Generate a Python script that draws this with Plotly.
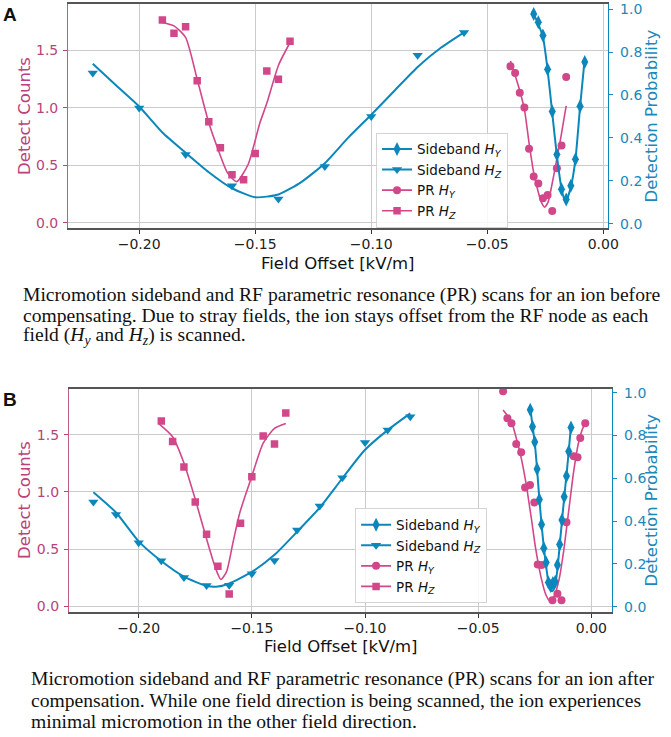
import plotly.graph_objects as go

# ---- panel A data (before compensating) ----
a_sby_x = [-0.030, -0.028, -0.026, -0.024, -0.022, -0.020, -0.018, -0.016, -0.014, -0.012, -0.010, -0.008]
a_sby_y = [0.978, 0.939, 0.877, 0.720, 0.523, 0.323, 0.160, 0.112, 0.177, 0.300, 0.548, 0.754]
a_sby_fit_x = [-0.0306, -0.028, -0.026, -0.024, -0.022, -0.020, -0.018, -0.0163, -0.014, -0.012, -0.010, -0.008]
a_sby_fit_y = [0.992, 0.930, 0.870, 0.717, 0.517, 0.317, 0.163, 0.100, 0.170, 0.300, 0.546, 0.769]

a_sbz_x = [-0.22, -0.20, -0.18, -0.16, -0.14, -0.12, -0.10, -0.08, -0.06]
a_sbz_y = [0.703, 0.539, 0.323, 0.177, 0.115, 0.266, 0.500, 0.785, 0.892]
a_sbz_fit_x = [-0.22, -0.21, -0.20, -0.19, -0.18, -0.17, -0.16, -0.15, -0.14, -0.13, -0.12,
               -0.11, -0.10, -0.09, -0.08, -0.07, -0.06]
a_sbz_fit_y = [0.746, 0.645, 0.546, 0.425, 0.331, 0.240, 0.165, 0.123, 0.136, 0.195, 0.282,
               0.400, 0.508, 0.620, 0.731, 0.820, 0.892]

a_pry_x = [-0.040, -0.038, -0.036, -0.034, -0.032, -0.030, -0.028, -0.026, -0.024, -0.022, -0.020, -0.018, -0.016]
a_pry_y = [1.362, 1.305, 1.133, 1.003, 0.644, 0.403, 0.342, 0.213, 0.241, 0.101, 0.474, 0.672, 1.270]
a_pry_fit_x = [-0.040, -0.038, -0.036, -0.034, -0.032, -0.030, -0.028, -0.0267, -0.0253, -0.0238,
               -0.0225, -0.0203, -0.0182, -0.016]
a_pry_fit_y = [1.409, 1.284, 1.150, 0.989, 0.696, 0.437, 0.265, 0.178, 0.135, 0.178,
               0.293, 0.523, 0.753, 1.017]

a_prz_x = [-0.190, -0.185, -0.180, -0.175, -0.170, -0.165, -0.160, -0.155, -0.150, -0.145, -0.140, -0.135]
a_prz_y = [1.767, 1.650, 1.707, 1.236, 0.879, 0.653, 0.417, 0.374, 0.603, 1.322, 1.250, 1.580]
a_prz_fit_x = [-0.190, -0.185, -0.180, -0.175, -0.170, -0.166, -0.162, -0.158, -0.153, -0.148,
               -0.145, -0.140, -0.135]
a_prz_fit_y = [1.745, 1.715, 1.615, 1.250, 0.870, 0.638, 0.437, 0.357, 0.509, 0.868,
               1.040, 1.370, 1.570]

# ---- panel B data (after compensation) ----
b_sby_x = [-0.027, -0.026, -0.025, -0.024, -0.023, -0.022, -0.021, -0.020, -0.019, -0.018,
           -0.017, -0.016, -0.015, -0.014, -0.013, -0.012, -0.011, -0.010, -0.009]
b_sby_y = [0.920, 0.841, 0.770, 0.643, 0.501, 0.384, 0.273, 0.206, 0.113, 0.096,
           0.110, 0.116, 0.195, 0.290, 0.405, 0.513, 0.611, 0.725, 0.837]
b_sby_fit_x = [-0.027, -0.026, -0.025, -0.024, -0.023, -0.022, -0.021, -0.020, -0.019, -0.018,
               -0.017, -0.016, -0.015, -0.014, -0.013, -0.012, -0.011, -0.010, -0.009]
b_sby_fit_y = [0.930, 0.845, 0.765, 0.645, 0.505, 0.385, 0.275, 0.190, 0.115, 0.075,
               0.075, 0.100, 0.175, 0.285, 0.400, 0.510, 0.615, 0.725, 0.850]

b_sbz_x = [-0.22, -0.21, -0.20, -0.19, -0.18, -0.17, -0.16, -0.15, -0.14, -0.13, -0.12,
           -0.11, -0.10, -0.09, -0.08]
b_sbz_y = [0.489, 0.431, 0.298, 0.214, 0.136, 0.099, 0.100, 0.154, 0.216, 0.358, 0.470,
           0.602, 0.767, 0.825, 0.887]
b_sbz_fit_x = [-0.22, -0.21, -0.20, -0.19, -0.18, -0.17, -0.165, -0.16, -0.15, -0.14, -0.13,
               -0.12, -0.11, -0.10, -0.09, -0.08]
b_sbz_fit_y = [0.535, 0.440, 0.305, 0.213, 0.140, 0.097, 0.094, 0.108, 0.162, 0.242, 0.350,
               0.463, 0.600, 0.733, 0.825, 0.903]

b_pry_x = [-0.0390, -0.0371, -0.0353, -0.0332, -0.0310, -0.0293, -0.0271, -0.0252, -0.0237,
           -0.0220, -0.0172, -0.0150, -0.0132, -0.0110, -0.0078, -0.0061, -0.0049, -0.0027]
b_pry_y = [1.880, 1.644, 1.600, 1.419, 1.347, 1.039, 1.061, 0.909, 0.367,
           0.361, 0.054, 0.111, 0.054, 0.736, 1.312, 1.303, 1.471, 1.600]
b_pry_fit_x = [-0.0390, -0.0353, -0.0332, -0.0310, -0.0288, -0.0266, -0.0245, -0.0223, -0.0201,
               -0.0183, -0.0165, -0.0143, -0.0122, -0.0100, -0.0078, -0.0057, -0.0035, -0.0017]
b_pry_fit_y = [1.716, 1.615, 1.471, 1.298, 1.067, 0.780, 0.491, 0.261, 0.102,
               0.045, 0.088, 0.232, 0.491, 0.837, 1.182, 1.428, 1.571, 1.629]

b_prz_x = [-0.190, -0.185, -0.180, -0.175, -0.170, -0.165, -0.160, -0.155, -0.150, -0.145, -0.140, -0.135]
b_prz_y = [1.619, 1.440, 1.219, 0.913, 0.631, 0.351, 0.109, 0.726, 1.132, 1.489, 1.420, 1.690]
b_prz_fit_x = [-0.1909, -0.185, -0.180, -0.175, -0.170, -0.166, -0.1637, -0.1612, -0.1583, -0.1553,
               -0.150, -0.145, -0.140, -0.135]
b_prz_fit_y = [1.593, 1.483, 1.253, 0.936, 0.590, 0.331, 0.236, 0.302, 0.562, 0.821,
               1.138, 1.426, 1.556, 1.599]

legend_names = ["Sideband <i>H<sub>Y</sub></i>", "Sideband <i>H<sub>Z</sub></i>",
                "PR <i>H<sub>Y</sub></i>", "PR <i>H<sub>Z</sub></i>"]

BLUE = "#0C87BC"
PINK = "#D2478A"
PINK_TXT = "#B8437C"
BLUE_TXT = "#1A88BA"
W, H = 671, 737
FONT = "DejaVu Sans"

fig = go.Figure()


def px_x(p):
    return p / W


def px_y(p):
    return 1 - p / H


panels = [
    dict(x="x", yl="y", yr="y2", leg="legend",
         sby=(a_sby_x, a_sby_y, a_sby_fit_x, a_sby_fit_y),
         sbz=(a_sbz_x, a_sbz_y, a_sbz_fit_x, a_sbz_fit_y),
         pry=(a_pry_x, a_pry_y, a_pry_fit_x, a_pry_fit_y),
         prz=(a_prz_x, a_prz_y, a_prz_fit_x, a_prz_fit_y)),
    dict(x="x2", yl="y3", yr="y4", leg="legend2",
         sby=(b_sby_x, b_sby_y, b_sby_fit_x, b_sby_fit_y),
         sbz=(b_sbz_x, b_sbz_y, b_sbz_fit_x, b_sbz_fit_y),
         pry=(b_pry_x, b_pry_y, b_pry_fit_x, b_pry_fit_y),
         prz=(b_prz_x, b_prz_y, b_prz_fit_x, b_prz_fit_y)),
]

series = [("sby", BLUE, "diamond-tall", 10, "yr", 2.0),
          ("sbz", BLUE, "triangle-down", 9, "yr", 2.0),
          ("pry", PINK, "circle", 8, "yl", 1.6),
          ("prz", PINK, "square", 7.5, "yl", 1.6)]

for p in panels:
    # PR first (left axis), then sideband (right axis)
    for key, color, sym, size, ax, lw in series[2:] + series[:2]:
        xs, ys, fx, fy = p[key]
        fig.add_trace(go.Scatter(x=fx, y=fy, mode="lines", line=dict(color=color, width=lw, shape="spline", smoothing=0.6),
                                 xaxis=p["x"], yaxis=p[ax], showlegend=False, hoverinfo="skip"))
        fig.add_trace(go.Scatter(x=xs, y=ys, mode="markers", marker=dict(color=color, symbol=sym, size=size),
                                 xaxis=p["x"], yaxis=p[ax], showlegend=False))
    # legend-only entries
    for (key, color, sym, size, ax, lw), name in zip(series, legend_names):
        fig.add_trace(go.Scatter(x=[None], y=[None], mode="lines+markers", name=name,
                                 line=dict(color=color, width=lw), marker=dict(color=color, symbol=sym, size=size),
                                 xaxis=p["x"], yaxis=p[ax], legend=p["leg"]))

xa = dict(showgrid=True, gridcolor="#cbcbcb", gridwidth=1, zeroline=False,
          showline=True, linecolor="#555555", linewidth=1.8, mirror=True,
          ticks="outside", ticklen=4, tickcolor="#333333", dtick=0.05, tick0=0, tickformat=".2f",
          ticklabelstandoff=-2, tickfont=dict(family=FONT, size=14, color="#222222"))
yl = dict(showgrid=True, gridcolor="#cbcbcb", gridwidth=1, zeroline=False,
          showline=True, linecolor="#C4598C", linewidth=1.2, range=[-0.05, 1.903],
          ticks="outside", ticklen=4, tickcolor=PINK_TXT, dtick=0.5, tick0=0, tickformat=".1f",
          ticklabelstandoff=2, tickfont=dict(family=FONT, size=14, color=PINK_TXT))
yr = dict(showgrid=False, zeroline=False, side="right",
          showline=True, linecolor=BLUE, linewidth=1.2,
          ticks="outside", ticklen=4, tickcolor=BLUE_TXT, dtick=0.2, tick0=0, tickformat=".1f",
          ticklabelstandoff=4, tickfont=dict(family=FONT, size=14, color=BLUE_TXT))

a_dom_x = [px_x(69.3), px_x(618.3)]
a_dom_y = [px_y(226.5), px_y(0.3)]
b_dom_x = [px_x(70.1), px_x(622.4)]
b_dom_y = [px_y(614.0), px_y(388.3)]

legend_style = dict(bgcolor="rgba(255,255,255,0.85)", bordercolor="#d4d4d4", borderwidth=1,
                    font=dict(family=FONT, size=13.5, color="#111111"), itemwidth=30,
                    xanchor="left", yanchor="top", xref="paper", yref="paper", traceorder="normal")

fig.update_layout(
    width=W, height=H, margin=dict(l=0, r=0, t=0, b=0),
    paper_bgcolor="white", plot_bgcolor="white",
    xaxis=dict(xa, domain=a_dom_x, anchor="y", range=[-0.2306, 0.0021]),
    yaxis=dict(yl, domain=a_dom_y, anchor="x"),
    yaxis2=dict(yr, overlaying="y", anchor="x", range=[-0.022, 1.023]),
    xaxis2=dict(xa, domain=b_dom_x, anchor="y3", range=[-0.2308, 0.0092]),
    yaxis3=dict(yl, domain=b_dom_y, anchor="x2"),
    yaxis4=dict(yr, overlaying="y3", anchor="x2", range=[-0.026, 1.019]),
    legend=dict(legend_style, x=px_x(382.3), y=px_y(130)),
    legend2=dict(legend_style, x=px_x(361), y=px_y(509.3)),
)

ann = []
lab_font = dict(family=FONT, size=16.5)
base = dict(showarrow=False, xref="paper", yref="paper", xanchor="center", yanchor="middle")
for top, bot, left, right, name in [(0.3, 226.5, 69.3, 618.3, "A"), (388.3, 614.0, 70.1, 622.4, "B")]:
    mid = (top + bot) / 2
    ann.append(dict(base, x=px_x(25), y=px_y(mid), text="Detect Counts", textangle=-90,
                    font=dict(lab_font, color=PINK_TXT)))
    ann.append(dict(base, x=px_x(662), y=px_y(mid), text="Detection Probability", textangle=-90,
                    font=dict(lab_font, color=BLUE_TXT)))
    ann.append(dict(base, x=px_x((left + right) / 2), y=px_y(bot + 35), text="Field Offset [kV/m]",
                    font=dict(lab_font, color="#111111")))
    ann.append(dict(base, x=px_x(1.0), y=px_y(top + 10.5), text="<b>%s</b>" % name, xanchor="left",
                    font=dict(family="Liberation Sans", size=19, color="#111111")))

caption_a = ["Micromotion sideband and RF parametric resonance (PR) scans for an ion before",
             "compensating. Due to stray fields, the ion stays offset from the RF node as each",
             "field (<i>H<sub>y</sub></i> and <i>H<sub>z</sub></i>) is scanned."]
caption_b = ["Micromotion sideband and RF parametric resonance (PR) scans for an ion after",
             "compensation. While one field direction is being scanned, the ion experiences",
             "minimal micromotion in the other field direction."]
for lines, left, y0, step in [(caption_a, 21.7, 294, 20.5), (caption_b, 29.3, 681.5, 21.6)]:
    for i, t in enumerate(lines):
        ann.append(dict(base, x=px_x(left), y=px_y(y0 + i * step), text=t, xanchor="left",
                        font=dict(family="Liberation Serif", size=19.6, color="#111111")))

fig.update_layout(annotations=ann)
# the page body has a default 8px margin; remove it so the figure fills the window
fig.write_html("out.html", config={"displayModeBar": False},
               post_script="document.body.style.margin='0';document.body.style.overflow='hidden';")
